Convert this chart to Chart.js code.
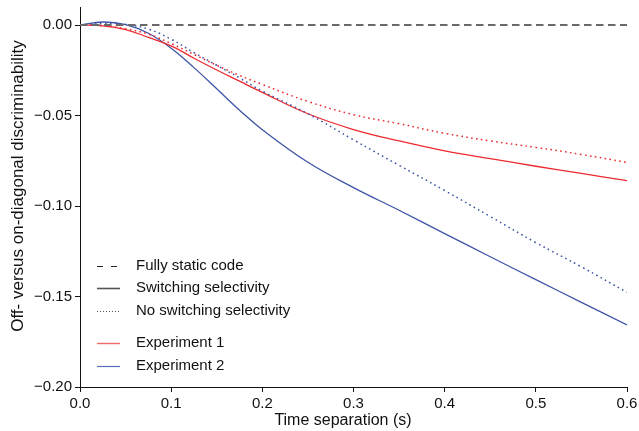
<!DOCTYPE html>
<html>
<head>
<meta charset="utf-8">
<title>Off- versus on-diagonal discriminability</title>
<script src="https://cdn.jsdelivr.net/npm/chart.js@4.4.1/dist/chart.umd.min.js"></script>
<style>
  html, body { margin: 0; padding: 0; background: #ffffff; }
  #wrap { width: 639px; height: 431px; }
</style>
</head>
<body>
<div id="wrap"><canvas id="chart" width="639" height="431"></canvas></div>
<script>
// ── Data ───────────────────────────────────────────────────
const TIMES = [0, 0.025, 0.05, 0.075, 0.1, 0.125, 0.15, 0.175, 0.2, 0.25, 0.3, 0.35, 0.4, 0.45, 0.5, 0.55, 0.6];

// Experiment 1 (red)
const EXP1_SWITCHING    = [0, -0.0004, -0.0025, -0.0068, -0.0115, -0.0183, -0.0248, -0.0310, -0.0372, -0.0490, -0.0577, -0.0640, -0.0695, -0.0738, -0.0780, -0.0820, -0.0860];
const EXP1_NO_SWITCHING = [0, -0.0003, -0.0020, -0.0050, -0.0102, -0.0162, -0.0222, -0.0278, -0.0328, -0.0422, -0.0495, -0.0545, -0.0598, -0.0640, -0.0676, -0.0715, -0.0759];

// Experiment 2 (blue)
const EXP2_SWITCHING    = [0, 0.0017, 0.0003, -0.0045, -0.0128, -0.0235, -0.0352, -0.0470, -0.0578, -0.0758, -0.0898, -0.1023, -0.1152, -0.1280, -0.1407, -0.1532, -0.1657];
const EXP2_NO_SWITCHING = [0, 0.0008, 0.0004, -0.0022, -0.0078, -0.0152, -0.0222, -0.0292, -0.0365, -0.0490, -0.0634, -0.0775, -0.0914, -0.1058, -0.1202, -0.1336, -0.1477];

// Fully static code reference line
const STATIC_TIMES = [0, 0.6];
const STATIC_CODE  = [0, 0];

const X_TICKS = [0, 0.1, 0.2, 0.3, 0.4, 0.5, 0.6];
const Y_TICKS = [-0.2, -0.15, -0.1, -0.05, 0];

const X_TITLE = 'Time separation (s)';
const Y_TITLE = 'Off- versus on-diagonal discriminability';

const LEGEND_LABELS = ['Fully static code', 'Switching selectivity', 'No switching selectivity', 'Experiment 1', 'Experiment 2'];

// ── Styles ──────────────────────────────────────────────────
const RED  = '#ee2a2e';
const BLUE = '#3e55a6';
const FONT = '"Liberation Sans", Arial, Helvetica, sans-serif';

function toPoints(xs, ys) {
  return xs.map((x, i) => ({ x: x, y: ys[i] }));
}

function fmtY(v) {
  if (Math.abs(v) < 1e-9) return '0.00';
  return (v < 0 ? '\u2212' : '') + Math.abs(v).toFixed(2);
}

// Axis titles + in-plot legend
const overlay = {
  id: 'overlay',
  afterDraw(chart) {
    const ctx = chart.ctx;
    ctx.save();
    ctx.fillStyle = '#111111';
    ctx.textBaseline = 'middle';

    // axis titles
    ctx.textAlign = 'center';
    ctx.font = '16px ' + FONT;
    ctx.fillText(X_TITLE, 343, 421);
    ctx.save();
    ctx.font = '17px ' + FONT;
    ctx.translate(18, 186);
    ctx.rotate(-Math.PI / 2);
    ctx.fillText(Y_TITLE, 0, 0);
    ctx.restore();

    // legend
    const rows  = [266, 288, 311, 343, 366];
    const swatch = [
      { color: '#222222', dash: [6, 8],   width: 1.2 },
      { color: '#555555', dash: [],       width: 1.6 },
      { color: '#555555', dash: [1, 2],   width: 1 },
      { color: '#f06a6a', dash: [],       width: 1.4 },
      { color: '#5a6db4', dash: [],       width: 1.2 },
    ];
    ctx.font = '15px ' + FONT;
    ctx.textAlign = 'left';
    LEGEND_LABELS.forEach((label, i) => {
      const y = rows[i];
      const s = swatch[i];
      ctx.beginPath();
      ctx.strokeStyle = s.color;
      ctx.lineWidth = s.width;
      ctx.setLineDash(s.dash);
      ctx.moveTo(97, y + 0.5);
      ctx.lineTo(120, y + 0.5);
      ctx.stroke();
      ctx.setLineDash([]);
      ctx.fillText(label, 136, y);
    });
    ctx.restore();
  }
};

const lineBase = {
  pointRadius: 0,
  pointHoverRadius: 0,
  fill: false,
  tension: 0.4,
};

new Chart(document.getElementById('chart'), {
  type: 'line',
  data: {
    datasets: [
      Object.assign({}, lineBase, {
        label: 'Fully static code',
        data: toPoints(STATIC_TIMES, STATIC_CODE),
        borderColor: '#6a6a6a',
        borderWidth: 2,
        borderDash: [7.5, 4.5],
        tension: 0,
      }),
      Object.assign({}, lineBase, {
        label: 'Experiment 1 – no switching selectivity',
        data: toPoints(TIMES, EXP1_NO_SWITCHING),
        borderColor: RED,
        borderWidth: 1.5,
        borderDash: [1.6, 3.4],
      }),
      Object.assign({}, lineBase, {
        label: 'Experiment 2 – no switching selectivity',
        data: toPoints(TIMES, EXP2_NO_SWITCHING),
        borderColor: BLUE,
        borderWidth: 1.5,
        borderDash: [1.6, 3.4],
      }),
      Object.assign({}, lineBase, {
        label: 'Experiment 1 – switching selectivity',
        data: toPoints(TIMES, EXP1_SWITCHING),
        borderColor: RED,
        borderWidth: 1.3,
      }),
      Object.assign({}, lineBase, {
        label: 'Experiment 2 – switching selectivity',
        data: toPoints(TIMES, EXP2_SWITCHING),
        borderColor: BLUE,
        borderWidth: 1.3,
      }),
    ],
  },
  options: {
    responsive: false,
    devicePixelRatio: 1,
    animation: false,
    layout: { padding: { top: 7, right: 12, left: 0, bottom: 0 } },
    plugins: {
      legend: { display: false },
      tooltip: { enabled: false },
    },
    scales: {
      x: {
        type: 'linear',
        min: 0,
        max: 0.6,
        afterBuildTicks: s => { s.ticks = X_TICKS.map(v => ({ value: v })); },
        afterFit: s => { s.height = 44; s.paddingLeft = 0; s.paddingRight = 0; },
        grid: { drawOnChartArea: false, drawTicks: true, tickLength: 5, tickColor: '#111' },
        border: { display: true, color: '#111', width: 1 },
        ticks: {
          autoSkip: false,
          maxRotation: 0,
          padding: 3,
          color: '#111',
          font: { size: 15, family: FONT },
          callback: v => v.toFixed(1),
        },
      },
      y: {
        type: 'linear',
        min: -0.2,
        max: 0.01,
        afterBuildTicks: s => { s.ticks = Y_TICKS.map(v => ({ value: v })); },
        afterFit: s => { s.width = 80; s.paddingTop = 0; s.paddingBottom = 0; },
        grid: { drawOnChartArea: false, drawTicks: true, tickLength: 5, tickColor: '#111' },
        border: { display: true, color: '#111', width: 1 },
        ticks: {
          padding: 3,
          color: '#111',
          font: { size: 15, family: FONT },
          callback: v => fmtY(v),
        },
      },
    },
  },
  plugins: [overlay],
});
</script>
</body>
</html>
